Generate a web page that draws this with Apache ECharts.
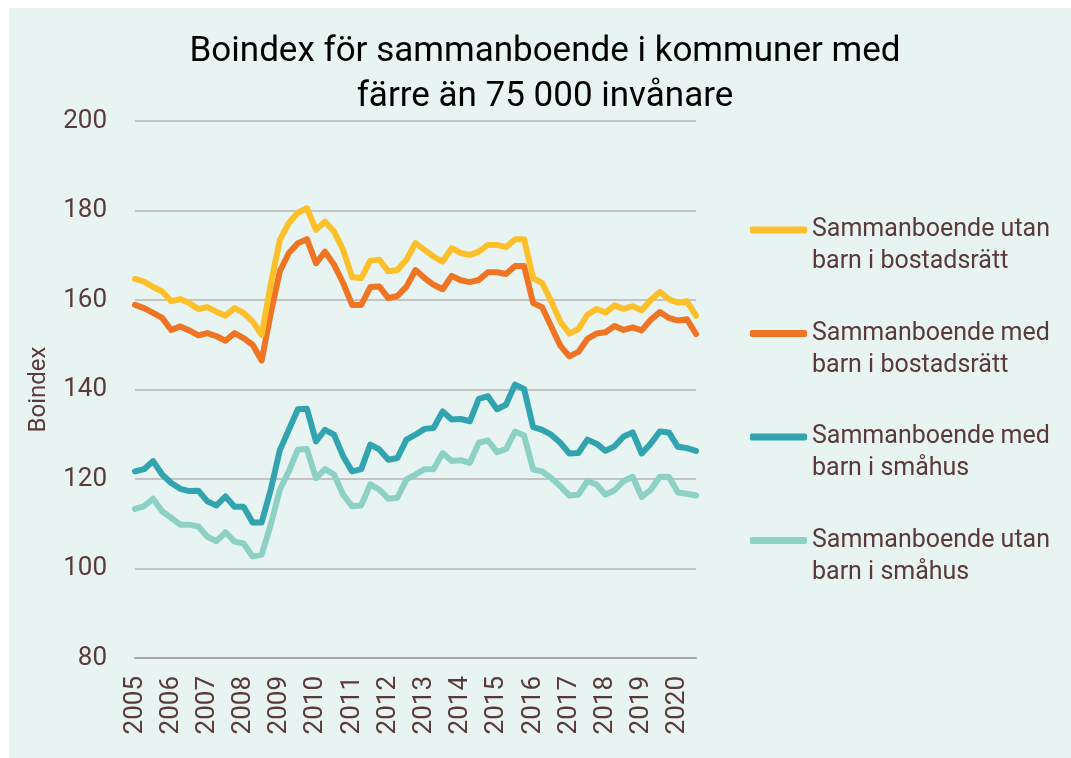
<!DOCTYPE html>
<html>
<head>
<meta charset="utf-8">
<script src="https://cdn.jsdelivr.net/npm/echarts@6/dist/echarts.min.js"></script>
<style>
html,body{margin:0;padding:0;background:#ffffff;}
#chart{width:1071px;height:758px;}
</style>
</head>
<body>
<div id="chart"></div>
<script>
// Quarterly categories 2005 K1 .. 2020 K3
const categories = [];
for (let y = 2005; y <= 2020; y++) {
  for (let q = 1; q <= 4; q++) {
    if (y === 2020 && q === 4) break;
    categories.push(y + ' K' + q);
  }
}

const titleText = 'Boindex för sammanboende i kommuner med\nfärre än 75 000 invånare';
const yAxisName = 'Boindex';
const seriesNames = [
  'Sammanboende utan\nbarn i bostadsrätt',
  'Sammanboende med\nbarn i bostadsrätt',
  'Sammanboende med\nbarn i småhus',
  'Sammanboende utan\nbarn i småhus'
];

const utanBarnBostadsratt = [
  164.7,164.1,162.9,161.9,159.7,160.2,159.3,158.0,158.4,157.4,156.5,158.2,157.1,155.2,152.2,
  163.5,173.4,177.2,179.5,180.5,175.7,177.5,175.3,171.2,165.1,164.9,168.8,169.0,166.4,166.7,
  169.0,172.7,171.2,169.7,168.6,171.6,170.5,170.1,170.8,172.3,172.3,171.8,173.6,173.6,164.9,
  163.8,159.7,155.2,152.5,153.5,156.7,158.0,157.2,158.8,158.0,158.6,157.7,160.0,161.8,160.2,
  159.4,159.7,156.5
];
const medBarnBostadsratt = [
  158.9,158.2,157.1,156.0,153.3,154.1,153.2,152.1,152.6,151.9,150.9,152.6,151.5,150.0,146.5,
  157.0,166.4,170.5,172.7,173.6,168.2,170.8,167.9,163.8,158.9,158.9,162.9,163.0,160.4,160.9,
  163.0,166.7,164.9,163.4,162.4,165.4,164.4,164.0,164.5,166.2,166.2,165.8,167.6,167.6,159.3,
  158.4,154.1,149.8,147.4,148.4,151.3,152.5,152.8,154.2,153.3,153.9,153.2,155.6,157.3,156.0,
  155.4,155.7,152.4
];
const medBarnSmahus = [
  121.7,122.2,124.0,121.0,119.1,117.8,117.3,117.4,115.0,114.1,116.1,113.8,113.8,110.3,110.3,
  117.6,126.4,131.0,135.6,135.7,128.4,131.0,129.9,125.1,121.7,122.2,127.7,126.6,124.3,124.7,
  128.8,129.9,131.2,131.4,135.1,133.3,133.4,132.9,137.9,138.5,135.6,136.6,141.1,140.1,131.6,
  131.0,129.9,128.1,125.7,125.8,128.8,127.9,126.3,127.3,129.5,130.4,125.7,127.9,130.6,130.4,
  127.2,126.9,126.3
];
const utanBarnSmahus = [
  113.3,113.9,115.6,112.8,111.3,109.8,109.8,109.4,107.1,106.1,108.1,106.0,105.6,102.7,103.1,
  109.8,117.6,121.7,126.6,126.7,120.2,122.2,121.0,116.5,113.9,114.1,118.8,117.6,115.6,115.8,
  119.9,121.0,122.2,122.2,125.8,124.0,124.2,123.6,128.1,128.6,126.0,126.7,130.6,129.7,122.1,
  121.7,120.2,118.4,116.3,116.5,119.5,118.8,116.5,117.5,119.5,120.5,116.0,117.6,120.5,120.5,
  117.0,116.7,116.3
];
const seriesData = [utanBarnBostadsratt, medBarnBostadsratt, medBarnSmahus, utanBarnSmahus];
const colors = ['#FDC02B', '#EF7424', '#31A4AF', '#8DD1C5'];

const textColor = '#5A3A3A';
const fontFamily = 'Roboto, "Noto Sans", sans-serif';

const chart = echarts.init(document.getElementById('chart'), null, {renderer: 'canvas'});
chart.setOption({
  backgroundColor: '#ffffff',
  animation: false,
  graphic: [{
    type: 'rect', z: -10, silent: true,
    shape: {x: 9, y: 8, width: 1071 - 9, height: 758 - 8},
    style: {fill: '#E7F4F1'}
  }],
  title: {
    text: titleText,
    left: 540, top: 25, textAlign: 'center',
    textStyle: {color: '#000000', fontFamily: fontFamily, fontSize: 35, fontWeight: 'normal', lineHeight: 45}
  },
  legend: {
    orient: 'vertical',
    left: 745, top: 177,
    itemWidth: 57, itemHeight: 7, itemGap: 7.5,
    icon: 'roundRect',
    data: seriesNames,
    formatter: name => ' \n' + name,
    textStyle: {color: textColor, fontFamily: fontFamily, fontSize: 25, lineHeight: 32}
  },
  grid: {left: 135, right: 375, top: 121, bottom: 100, containLabel: false},
  xAxis: {
    type: 'category',
    data: categories,
    boundaryGap: false,
    axisLine: {show: true, lineStyle: {color: '#A9A7A7', width: 2}},
    axisTick: {show: false},
    axisLabel: {
      interval: 3, rotate: 90, margin: 18,
      color: textColor, fontFamily: fontFamily, fontSize: 26,
      formatter: v => v.slice(0, 4)
    },
    splitLine: {show: false}
  },
  yAxis: {
    type: 'value', min: 80, max: 200, interval: 20,
    name: yAxisName, nameLocation: 'middle', nameGap: 84, nameRotate: 90,
    nameTextStyle: {color: textColor, fontFamily: fontFamily, fontSize: 24},
    axisLine: {show: false}, axisTick: {show: false},
    axisLabel: {color: textColor, fontFamily: fontFamily, fontSize: 26, margin: 28},
    splitLine: {show: true, lineStyle: {color: '#C3C3C3', width: 2}}
  },
  series: seriesNames.map((n, k) => ({
    name: n, type: 'line', data: seriesData[k],
    showSymbol: false, symbol: 'none',
    color: colors[k],
    lineStyle: {width: 6, color: colors[k], cap: 'round', join: 'round'},
    z: 10 - k
  }))
});
</script>
</body>
</html>
